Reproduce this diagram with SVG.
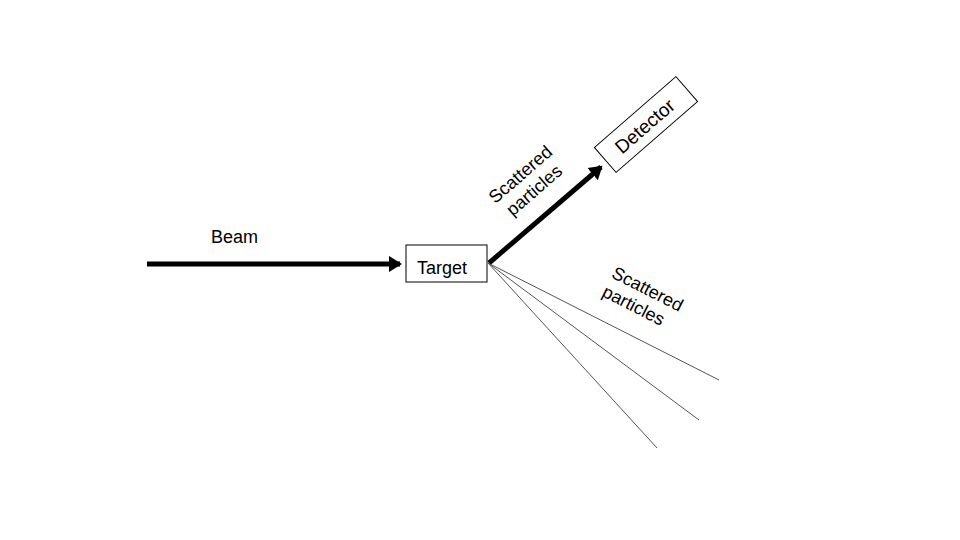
<svg xmlns="http://www.w3.org/2000/svg" width="960" height="540" viewBox="0 0 960 540">
<style>
text{font-family:"Liberation Sans",Arial,sans-serif;font-size:18px;fill:#000}
.box{fill:#fff;stroke:#000;stroke-width:1}
.thick{stroke:#000;stroke-width:5;fill:none}
.thin{stroke:#555;stroke-width:1;fill:none}
</style>
<defs>
<marker id="ah" markerWidth="4" markerHeight="4" refX="2.2" refY="2" orient="auto" markerUnits="strokeWidth">
<path d="M0,0.4 L2.6,2 L0,3.6 Z" fill="#000"/>
</marker>
</defs>
<rect width="960" height="540" fill="#fff"/>
<g id="connectors">
<line class="thick" x1="147" y1="264" x2="400" y2="264" marker-end="url(#ah)"/>
<line class="thick" x1="489" y1="263" x2="601" y2="167" marker-end="url(#ah)"/>
<line class="thin" x1="488" y1="263" x2="719" y2="380"/>
<line class="thin" x1="488" y1="263" x2="699" y2="420"/>
<line class="thin" x1="488" y1="263" x2="657" y2="448"/>
</g>
<g id="target">
<rect class="box" x="406" y="245" width="81" height="37"/>
<text x="442" y="274" text-anchor="middle">Target</text>
</g>
<g id="detector" transform="translate(646,124.5) rotate(-41)">
<rect class="box" x="-54" y="-16.5" width="108" height="33"/>
<text x="-2" y="7" text-anchor="middle" style="font-size:19px">Detector</text>
</g>
<g id="labels">
<text x="211" y="243">Beam</text>
<g transform="translate(527,182) rotate(-41)">
<text x="0" y="-4" text-anchor="middle">Scattered</text>
<text x="0" y="17" text-anchor="middle">particles</text>
</g>
<g transform="translate(643,298) rotate(27)">
<text x="0" y="-4" text-anchor="middle">Scattered</text>
<text x="-5" y="17" text-anchor="middle">particles</text>
</g>
</g>
</svg>
